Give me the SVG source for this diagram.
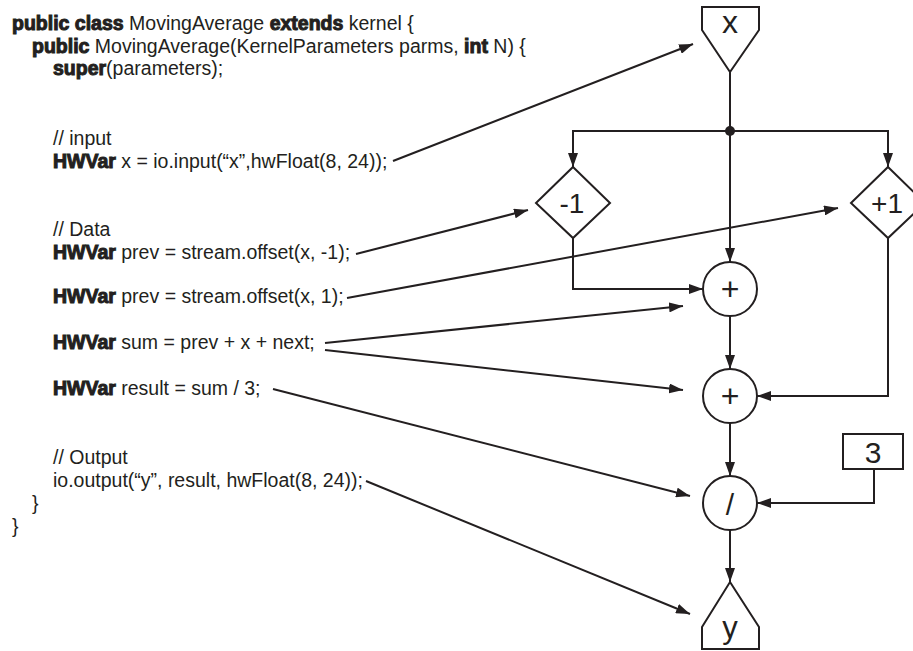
<svg xmlns="http://www.w3.org/2000/svg" width="913" height="651" viewBox="0 0 913 651">
  <style>
    .code { font-family: "Liberation Sans", Arial, sans-serif; font-size: 19.5px; fill: #231f20; }
    .kw { font-weight: bold; stroke: #231f20; stroke-width: 1px; }
    .shape { fill: #fff; stroke: #231f20; stroke-width: 2; }
    .lbl { font-family: "Liberation Sans", Arial, sans-serif; fill: #231f20; text-anchor: middle; }
    .wire { fill: none; stroke: #231f20; stroke-width: 2; }
  </style>
  <defs>
    <marker id="arrow" viewBox="0 0 14 10" refX="14" refY="5" markerWidth="14" markerHeight="10" markerUnits="userSpaceOnUse" orient="auto">
      <path d="M0,0 L14,5 L0,10 Z" fill="#231f20"/>
    </marker>
  </defs>

  <rect width="913" height="651" fill="#fff"/>

  <!-- kernel source code -->
  <g id="code" class="code">
    <text x="12" y="30"><tspan class="kw">public class</tspan> MovingAverage <tspan class="kw">extends</tspan> kernel {</text>
    <text x="32" y="53"><tspan class="kw">public</tspan> MovingAverage(KernelParameters parms, <tspan class="kw">int</tspan> N) {</text>
    <text x="53" y="75"><tspan class="kw">super</tspan>(parameters);</text>
    <text x="53" y="145">// input</text>
    <text x="53" y="168"><tspan class="kw">HWVar</tspan> x = io.input(“x”,hwFloat(8, 24));</text>
    <text x="53" y="236">// Data</text>
    <text x="53" y="259"><tspan class="kw">HWVar</tspan> prev = stream.offset(x, -1);</text>
    <text x="53" y="303"><tspan class="kw">HWVar</tspan> prev = stream.offset(x, 1);</text>
    <text x="53" y="349"><tspan class="kw">HWVar</tspan> sum = prev + x + next;</text>
    <text x="53" y="395"><tspan class="kw">HWVar</tspan> result = sum / 3;</text>
    <text x="53" y="464">// Output</text>
    <text x="53" y="487">io.output(“y”, result, hwFloat(8, 24));</text>
    <text x="32" y="510">}</text>
    <text x="12" y="533">}</text>
  </g>

  <!-- dataflow connectors -->
  <g id="connectors" class="wire">
    <path d="M730,72 V131"/>
    <path d="M730,131 H573 V167" marker-end="url(#arrow)"/>
    <path d="M730,131 H888 V167" marker-end="url(#arrow)"/>
    <path d="M730,131 V262" marker-end="url(#arrow)"/>
    <path d="M573,238 V289 H703" marker-end="url(#arrow)"/>
    <path d="M888,238 V396 H757" marker-end="url(#arrow)"/>
    <path d="M730,316 V369" marker-end="url(#arrow)"/>
    <path d="M730,423 V476" marker-end="url(#arrow)"/>
    <path d="M874,469 V503 H757" marker-end="url(#arrow)"/>
    <path d="M730,530 V582" marker-end="url(#arrow)"/>
    <!-- code line to graph node links -->
    <path d="M393,161 L693,44" marker-end="url(#arrow)"/>
    <path d="M356,254 L528,210" marker-end="url(#arrow)"/>
    <path d="M347,298 L838,208" marker-end="url(#arrow)"/>
    <path d="M325,343 L683,306" marker-end="url(#arrow)"/>
    <path d="M325,350 L683,390" marker-end="url(#arrow)"/>
    <path d="M273,389 L690,496" marker-end="url(#arrow)"/>
    <path d="M366,481 L690,614" marker-end="url(#arrow)"/>
    <circle cx="730" cy="131" r="5" fill="#231f20" stroke="none"/>
  </g>

  <!-- graph nodes -->
  <g id="node-x">
    <polygon class="shape" points="702,7 759,7 759,30 730,72 702,30"/>
    <text class="lbl" x="730" y="33" font-size="32">x</text>
  </g>
  <g id="node-minus1">
    <polygon class="shape" points="573,167 610,203 573,238 536,203"/>
    <text class="lbl" x="572" y="213" font-size="28">-1</text>
  </g>
  <g id="node-plus1">
    <polygon class="shape" points="888,167 925,203 888,238 851,203"/>
    <text class="lbl" x="887" y="213" font-size="28">+1</text>
  </g>
  <g id="node-add1">
    <circle class="shape" cx="730" cy="289" r="27"/>
    <text class="lbl" x="730" y="300" font-size="32">+</text>
  </g>
  <g id="node-add2">
    <circle class="shape" cx="730" cy="396" r="27"/>
    <text class="lbl" x="730" y="407" font-size="32">+</text>
  </g>
  <g id="node-div">
    <circle class="shape" cx="730" cy="503" r="27"/>
    <text class="lbl" x="730" y="515" font-size="30">/</text>
  </g>
  <g id="node-three">
    <rect class="shape" x="843" y="434" width="60" height="35"/>
    <text class="lbl" x="873" y="463" font-size="30">3</text>
  </g>
  <g id="node-y">
    <polygon class="shape" points="730,582 759,627 759,649 702,649 702,627"/>
    <text class="lbl" x="730" y="638" font-size="31">y</text>
  </g>
</svg>
